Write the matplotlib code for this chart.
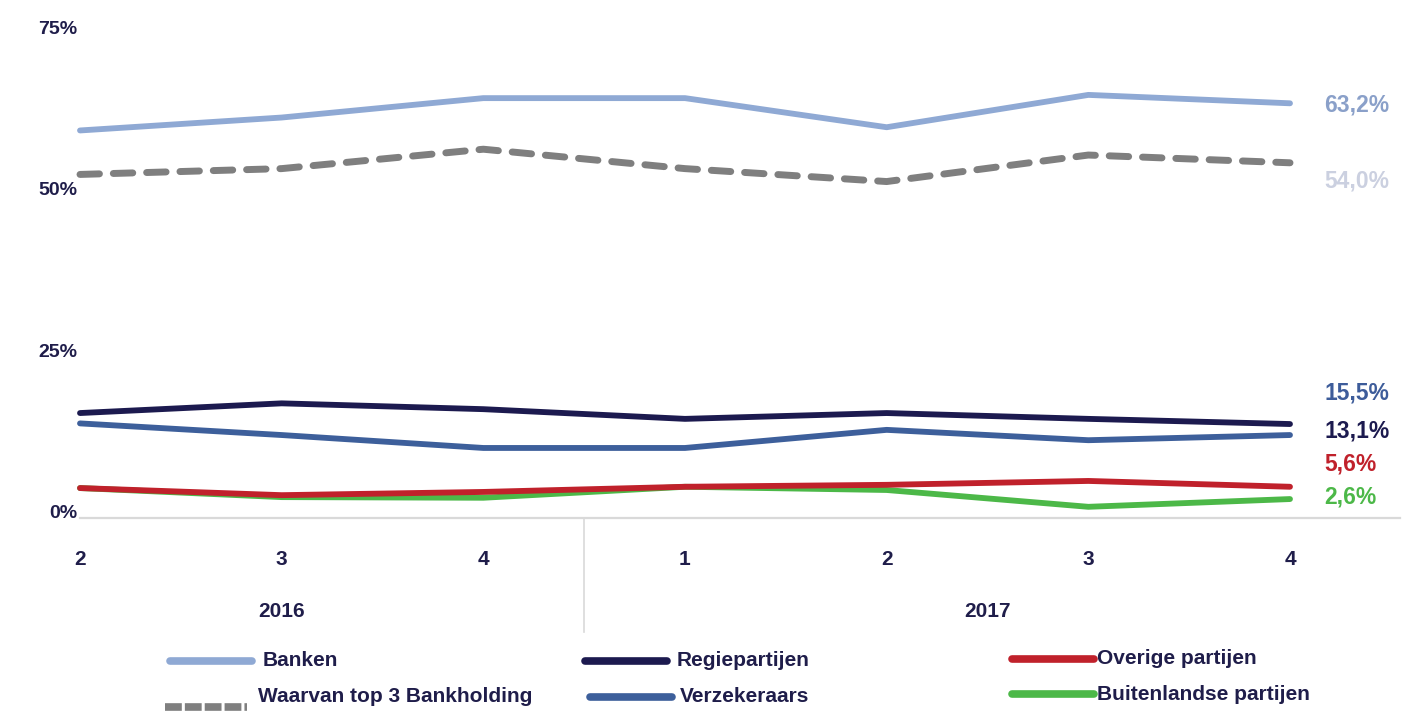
import matplotlib
matplotlib.use("Agg")
import matplotlib.pyplot as plt
from matplotlib.lines import Line2D
import matplotlib.transforms as mtransforms

plt.rcParams['font.family'] = ['Liberation Sans', 'DejaVu Sans']
plt.rcParams['font.weight'] = 'bold'

# data (values in %)
quarters = ['2', '3', '4', '1', '2', '3', '4']
years = ['2016', '2017']
year_quarters = [3, 4]   # number of quarters shown per year

series_names = ['Banken', 'Waarvan top 3 Bankholding', 'Regiepartijen',
                'Verzekeraars', 'Overige partijen', 'Buitenlandse partijen']
banken = [59.0, 61.0, 64.0, 64.0, 59.5, 64.5, 63.2]
top3 = [52.2, 53.1, 56.1, 53.1, 51.1, 55.2, 54.0]
regie = [15.3, 16.8, 15.9, 14.4, 15.3, 14.4, 13.6]
verzekeraars = [13.7, 11.9, 9.9, 9.9, 12.7, 11.1, 11.9]
overige = [3.7, 2.6, 3.1, 3.9, 4.2, 4.8, 3.9]
buitenlands = [3.7, 2.3, 2.2, 3.9, 3.4, 0.8, 2.0]
end_labels = ['63,2%', '54,0%', '15,5%', '13,1%', '5,6%', '2,6%']

colors = ['#8fa9d4', '#7f7f7f', '#1c1a4f', '#3d5f9b', '#c0212b', '#4cb848']
label_colors = ['#8aa0c9', '#cbd0e0', '#3d5c9a', '#1c1a4f', '#c0212b', '#4cb848']
text_color = '#1f1d4a'

fig = plt.figure(figsize=(14.04, 7.13), dpi=100)
W, H = 1404, 713
ax = fig.add_axes([80 / W, (H - 518) / H, (1400 - 80) / W, (518 - 27) / H])

x = list(range(len(quarters)))
all_series = [banken, top3, regie, verzekeraars, overige, buitenlands]
for i, vals in enumerate(all_series):
    if i == 1:
        ax.plot(x, vals, color=colors[i], lw=5, dashes=(2.8, 2.0),
                dash_capstyle='round', solid_capstyle='round', clip_on=False)
    else:
        ax.plot(x, vals, color=colors[i], lw=4.2, solid_capstyle='round',
                clip_on=False, zorder=3 if i == 4 else 2)

ax.set_xlim(0, 6 * 1320 / 1210)
ax.set_ylim(-0.93, 75)

ax.set_yticks([0, 25, 50, 75])
ax.set_yticklabels(['0%', '25%', '50%', '75%'], fontsize=14, color=text_color)
ax.tick_params(axis='y', length=0, pad=2)
ax.set_xticks(x)
ax.set_xticklabels(quarters, fontsize=15, color=text_color)
ax.tick_params(axis='x', length=0, pad=23)

for s in ['top', 'right', 'left']:
    ax.spines[s].set_visible(False)
ax.spines['bottom'].set_color('#d9d9d9')
ax.spines['bottom'].set_linewidth(1.6)

# year labels and separator
trans = mtransforms.blended_transform_factory(ax.transData, ax.transAxes)
start = 0
for yr, n in zip(years, year_quarters):
    ax.text(start + (n - 1) / 2, -0.19, yr, transform=trans, ha='center',
            va='center', fontsize=15, color=text_color)
    start += n
ax.plot([year_quarters[0] - 0.5] * 2, [0, -0.232], transform=trans,
        color='#d9d9d9', lw=1.2, clip_on=False)

# end labels
label_y = [62.9, 51.2, 18.4, 12.6, 7.4, 2.3]
for lab, yv, c in zip(end_labels, label_y, label_colors):
    ax.text(6.17, yv, lab, color=c, fontsize=16.5, ha='left', va='center',
            clip_on=False)

# legend (column-major layout)
legend_pos = [(170, 661), (165, 707), (585, 661), (590, 697), (1012, 659), (1012, 694)]
text_pos = [(263, 661), (258, 697), (677, 661), (680, 697), (1097, 659), (1097, 694)]
for i, name in enumerate(series_names):
    hx, hy = legend_pos[i]
    ln = Line2D([hx / W, (hx + 82) / W], [1 - hy / H, 1 - hy / H],
                transform=fig.transFigure, color=colors[i], lw=5.5,
                solid_capstyle='round')
    if i == 1:
        ln.set_dashes((2.2, 0.4))
        ln.set_dash_capstyle('butt')
    fig.add_artist(ln)
    tx, ty = text_pos[i]
    fig.text(tx / W, 1 - ty / H, name, fontsize=15, color=text_color,
             ha='left', va='center')

fig.savefig('out.png', dpi=100, facecolor='white')
